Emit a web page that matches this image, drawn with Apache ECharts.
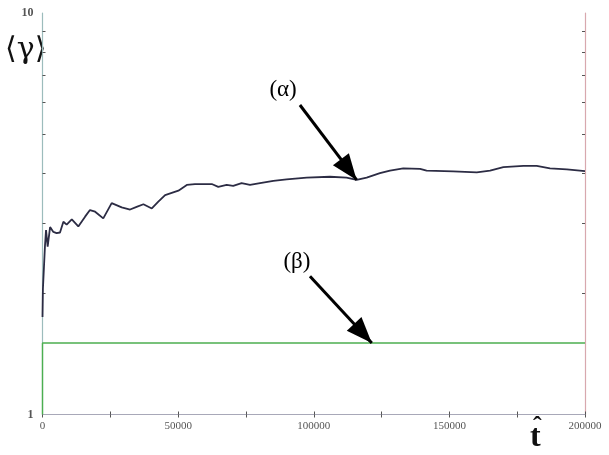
<!DOCTYPE html>
<html>
<head>
<meta charset="utf-8">
<script src="https://cdn.jsdelivr.net/npm/echarts@6/dist/echarts.min.js"></script>
<style>
  html, body { margin: 0; padding: 0; background: #fff; }
  #chart { width: 609px; height: 455px; }
</style>
</head>
<body>
<div id="chart"></div>
<script>
// 时间轴 t
var tAlpha = [0, 150, 900, 1300, 1900, 2800, 4000, 5200, 6450, 7700, 8900, 10800, 13200, 15700, 17500, 19400,
    22400, 25500, 29200, 32300, 34700, 37200, 40300, 42700, 45200, 50100, 53200, 56200, 62400, 64800, 67900,
    70300, 73400, 76500, 80200, 85100, 90000, 97400, 106000, 112100, 115800, 119500, 124400, 128100, 133000,
    139200, 141600, 151400, 160100, 165000, 169900, 177300, 182200, 187100, 193300, 200000]
// 曲线 (α)
var gammaAlpha = [1.75, 2.05, 2.62, 2.88, 2.62, 2.93, 2.85, 2.83, 2.84, 3.02, 2.97, 3.06, 2.94, 3.11, 3.23, 3.20,
    3.08, 3.36, 3.28, 3.24, 3.29, 3.34, 3.26, 3.39, 3.52, 3.61, 3.73, 3.75, 3.75, 3.69, 3.73,
    3.71, 3.77, 3.73, 3.77, 3.82, 3.85, 3.89, 3.91, 3.89, 3.84, 3.89, 3.99, 4.05, 4.10,
    4.09, 4.05, 4.03, 4.01, 4.05, 4.13, 4.16, 4.16, 4.10, 4.08, 4.04]
// 曲线 (β)
var tBeta = [0, 0, 200000]
var gammaBeta = [1, 1.507, 1.507]

// 刻度
var xLabelValues = [0, 50000, 100000, 150000, 200000]
var xTickValues = [0, 25000, 50000, 75000, 100000, 125000, 150000, 175000, 200000]
var yMinorTicks = [2, 3, 4, 5, 6, 7, 8, 9]

// 标注 [文字位置 t, γ] 以及箭头 起点/终点
var noteNames = ['(α)', '(β)']
var noteLabelPos = [[88700, 6.43], [93800, 2.40]]
var arrowFrom = [[94900, 5.90], [98600, 2.21]]
var arrowTo = [[115800, 3.84], [121400, 1.507]]

var zip = function (a, b) {
    return a.map(function (v, i) { return [v, b[i]] })
}
var logTicks = yMinorTicks.map(function (v) { return Math.log10(v) })

var myChart = echarts.init(document.getElementById('chart'))
var serif = 'Liberation Serif'
var tickStyle = { color: '#555', width: 1 }

var option = {
    animation: false,
    backgroundColor: '#fff',
    grid: { left: 42.5, right: 24, top: 13, bottom: 40.5 },
    xAxis: [
        {
            type: 'value', position: 'bottom', min: 0, max: 200000,
            axisLine: { lineStyle: { color: '#9a9ab0', width: 1.2 } },
            axisTick: { inside: true, length: 3, customValues: xTickValues, lineStyle: tickStyle },
            axisLabel: {
                customValues: xLabelValues, margin: 6, fontFamily: serif, fontSize: 11, color: '#555',
                formatter: function (v) { return String(v) }
            },
            splitLine: { show: false }
        },
        {
            type: 'value', position: 'top', min: 0, max: 200000,
            axisLine: { lineStyle: { color: '#a8a8b8', width: 1 } },
            axisTick: { inside: true, length: 3, customValues: xTickValues, lineStyle: tickStyle },
            axisLabel: { show: false },
            splitLine: { show: false }
        }
    ],
    yAxis: [
        {
            type: 'log', logBase: 10, min: 1, max: 10, position: 'left',
            axisLine: { show: true, lineStyle: { color: '#9cbcbc', width: 1.2 } },
            axisTick: { show: false },
            axisLabel: { margin: 9, fontFamily: serif, fontSize: 12, fontWeight: 'bold', color: '#555' },
            splitLine: { show: false }
        },
        {
            // 只用来画左侧的对数小刻度
            type: 'value', min: 0, max: 1, position: 'left',
            axisLine: { show: false },
            axisTick: { show: true, inside: true, length: 3, customValues: logTicks, lineStyle: tickStyle },
            axisLabel: { show: false },
            splitLine: { show: false }
        },
        {
            type: 'value', min: 0, max: 1, position: 'right',
            axisLine: { show: true, lineStyle: { color: '#d8a8ae', width: 1.2 } },
            axisTick: { show: true, inside: true, length: 3, customValues: logTicks, lineStyle: tickStyle },
            axisLabel: { show: false },
            splitLine: { show: false }
        }
    ],
    graphic: [
        { type: 'text', left: 5, top: 35, style: { text: '⟨γ⟩', font: '30px "DejaVu Serif"', fill: '#111' } },
        { type: 'text', left: 533, top: 414, style: { text: 'ˆ', font: 'bold 26px "Liberation Serif"', fill: '#111' } },
        { type: 'text', left: 530, top: 422, style: { text: 't', font: 'bold 32px "Liberation Serif"', fill: '#111' } }
    ],
    series: [
        {
            name: 'beta',
            type: 'line',
            xAxisIndex: 0,
            yAxisIndex: 0,
            data: zip(tBeta, gammaBeta),
            showSymbol: false,
            lineStyle: { color: '#4caf50', width: 1.4 },
            z: 2
        },
        {
            name: 'alpha',
            type: 'line',
            xAxisIndex: 0,
            yAxisIndex: 0,
            data: zip(tAlpha, gammaAlpha),
            showSymbol: false,
            lineStyle: { color: '#2c2c44', width: 1.8 },
            z: 3,
            markLine: {
                silent: true,
                symbol: ['none', 'triangle'],
                symbolSize: [20, 26],
                symbolOffset: [[0, 0], [0, 13]],
                lineStyle: { color: '#000', width: 3, type: 'solid' },
                label: { show: false },
                emphasis: { disabled: true },
                data: arrowFrom.map(function (p, i) {
                    return [{ coord: p }, { coord: arrowTo[i] }]
                })
            },
            markPoint: {
                silent: true,
                symbol: 'circle',
                symbolSize: 1,
                itemStyle: { color: 'rgba(0,0,0,0)' },
                label: {
                    show: true, position: 'inside', color: '#000',
                    fontFamily: serif, fontSize: 23,
                    formatter: function (p) { return p.name }
                },
                data: noteLabelPos.map(function (p, i) {
                    return { name: noteNames[i], coord: p }
                })
            }
        }
    ]
}

option && myChart.setOption(option)
window.addEventListener('resize', function () {
    myChart.resize()
})
</script>
</body>
</html>
